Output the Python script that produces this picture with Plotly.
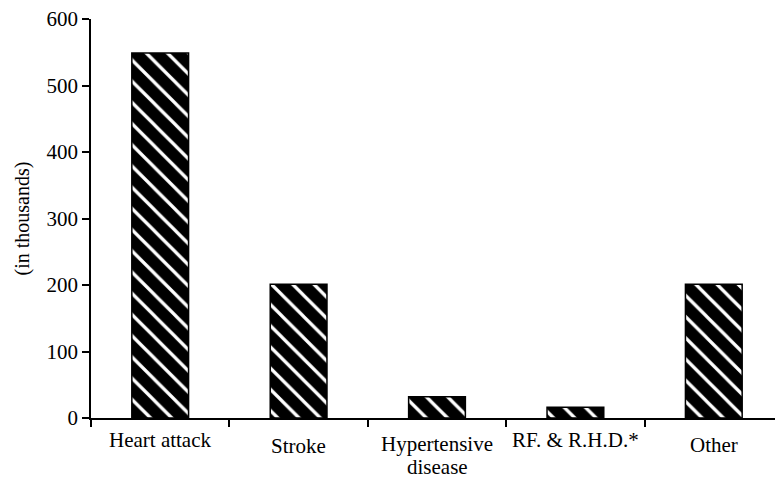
import plotly.graph_objects as go

categories = ["Heart attack", "Stroke", "Hypertensive disease", "RF. & R.H.D.*", "Other"]
label_lines = [["Heart attack"], ["Stroke"], ["Hypertensive", "disease"], ["RF. & R.H.D.*"], ["Other"]]
values = [549, 201, 32, 16, 201]
y_ticks = [0, 100, 200, 300, 400, 500, 600]
y_title = "(in thousands)"

# vertical offset (px below axis) of first label line for each category
label_shift = [-22, -28, -26, -22, -27]
LINE_GAP = 23

FONT = "Liberation Serif, Times New Roman, serif"

fig = go.Figure()
fig.add_trace(go.Bar(
    x=categories,
    y=values,
    width=0.41,
    marker=dict(
        color="black",
        line=dict(color="black", width=1.5),
        pattern=dict(shape="\\", fgcolor="white", bgcolor="black",
                     size=15, solidity=0.22, fillmode="replace"),
    ),
    showlegend=False,
))

for cat, lines, sh in zip(categories, label_lines, label_shift):
    for i, txt in enumerate(lines):
        fig.add_annotation(x=cat, xref="x", y=0, yref="paper", text=txt,
                           showarrow=False, yanchor="middle", yshift=sh - i * LINE_GAP,
                           borderpad=0,
                           font=dict(family=FONT, size=21, color="black"))

fig.add_annotation(x=0, xref="paper", y=0.5, yref="paper", text=y_title,
                   textangle=-90, showarrow=False, xanchor="center", yanchor="middle",
                   xshift=-69, font=dict(family=FONT, size=20, color="black"))

fig.update_layout(
    width=775, height=471,
    margin=dict(l=83, r=0, t=11, b=61),
    paper_bgcolor="white", plot_bgcolor="white",
    font=dict(family=FONT, size=21, color="black"),
)
fig.update_xaxes(
    type="category", showline=True, linecolor="black", linewidth=1.5,
    ticks="outside", tickson="boundaries", ticklen=7, tickcolor="black", tickwidth=1.5,
    showticklabels=False, showgrid=False, range=[-0.5, 4.5],
)
fig.update_yaxes(
    range=[0, 600], tickvals=y_ticks, ticktext=[str(v) for v in y_ticks],
    showline=True, linecolor="black", linewidth=1.5,
    ticks="outside", ticklen=7, tickcolor="black", tickwidth=1.5,
    showgrid=False, zeroline=False, ticklabeloverflow="allow",
    tickfont=dict(family=FONT, size=21),
)

fig.write_html("out.html")
